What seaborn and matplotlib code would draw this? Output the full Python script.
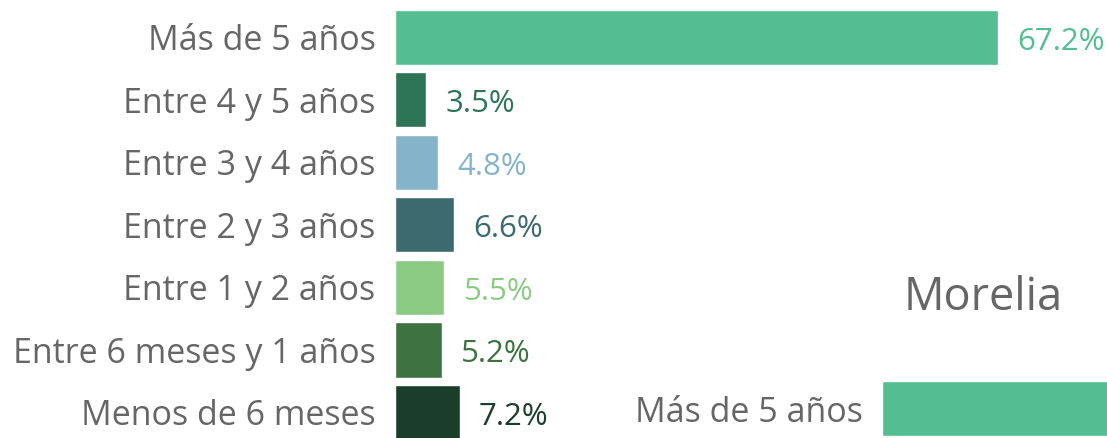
import numpy as np
import pandas as pd
import matplotlib
matplotlib.use('Agg')
import matplotlib.pyplot as plt
import seaborn as sns

# Data
categories = ['Más de 5 años', 'Entre 4 y 5 años', 'Entre 3 y 4 años',
              'Entre 2 y 3 años', 'Entre 1 y 2 años',
              'Entre 6 meses y 1 años', 'Menos de 6 meses']
values = [67.2, 3.5, 4.8, 6.6, 5.5, 5.2, 7.2]
bar_colors = ['#52BE91', '#2E7456', '#85B4CA', '#3D6A6E',
              '#8CCB84', '#3E7341', '#1B3D2B']

# second (cut off) panel
morelia_title = 'Morelia'
morelia_categories = ['Más de 5 años']
morelia_values = [60.0]

sns.set_theme(style='white')
plt.rcParams['font.family'] = ['Open Sans', 'DejaVu Sans']

W, H = 1107, 438
fig = plt.figure(figsize=(W / 100, H / 100), dpi=100)

px_per_unit = 603 / 67.2
row_px = 62.5

# main chart
ax = fig.add_axes([395 / W, 0, (W - 395) / W, 1])
df = pd.DataFrame({'cat': categories, 'val': values})
sns.barplot(data=df, x='val', y='cat', hue='cat', palette=bar_colors,
            legend=False, ax=ax, width=0.88, saturation=1)
ax.set_xlim(0, (W - 395) / px_per_unit)
ax.set_ylim((H - 37.5) / row_px, -37.5 / row_px)
for i, (v, c) in enumerate(zip(values, bar_colors)):
    ax.annotate(f'{v}%', xy=(v, i), xytext=(14, -3), textcoords='offset points',
                ha='left', va='center', fontsize=22.5, color=c)
ax.set_xlabel('')
ax.set_ylabel('')
ax.set_xticks([])
ax.tick_params(axis='y', length=0, pad=14, labelsize=24.5, labelcolor='#666666')
sns.despine(ax=ax, left=True, bottom=True)

# Morelia panel, only its first bar is visible
ax2 = fig.add_axes([882 / W, 0, (W - 882) / W, 57 / H])
df2 = pd.DataFrame({'cat': morelia_categories, 'val': morelia_values})
sns.barplot(data=df2, x='val', y='cat', color=bar_colors[0], ax=ax2,
            width=0.88, saturation=1)
ax2.set_xlim(0, (W - 882) / px_per_unit)
ax2.set_ylim(-0.44 + 57 / row_px, -0.44)
ax2.set_xlabel('')
ax2.set_ylabel('')
ax2.set_xticks([])
ax2.tick_params(axis='y', length=0, pad=14, labelsize=24.5, labelcolor='#666666')
sns.despine(ax=ax2, left=True, bottom=True)

fig.text(983 / W, 1 - 298 / H, morelia_title, ha='center', va='center',
         fontsize=32.5, color='#666666')

fig.savefig('out.png', dpi=100)
